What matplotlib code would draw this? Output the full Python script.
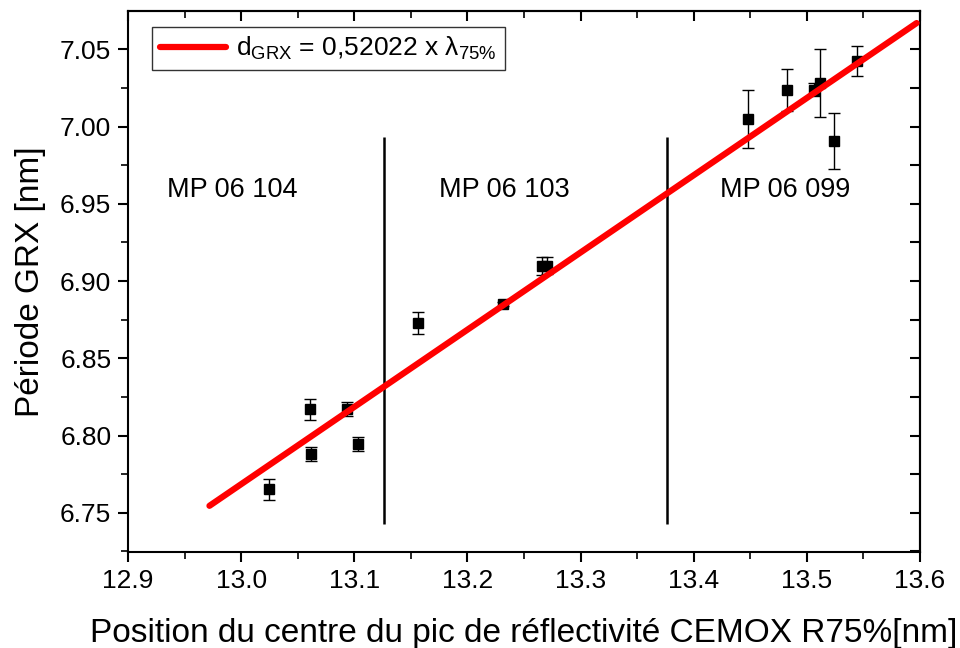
import matplotlib
matplotlib.use("Agg")
import matplotlib.pyplot as plt
from matplotlib.ticker import MultipleLocator, FormatStrFormatter

plt.rcParams['font.family'] = ['Liberation Sans', 'DejaVu Sans']
plt.rcParams['mathtext.fontset'] = 'custom'
plt.rcParams['mathtext.rm'] = 'Liberation Sans'
plt.rcParams['mathtext.it'] = 'Liberation Sans'

# Data
position = [13.0249, 13.0609, 13.0615, 13.0938, 13.1036, 13.1560, 13.2317,
            13.2660, 13.2700, 13.4483, 13.4821, 13.5063, 13.5116, 13.5243, 13.5440]
periode = [6.7651, 6.8169, 6.7880, 6.8169, 6.7943, 6.8730, 6.8851,
           6.9099, 6.9099, 7.0049, 7.0237, 7.0239, 7.0280, 6.9908, 7.0426]
erreur = [0.0069, 0.0070, 0.0047, 0.0045, 0.0046, 0.0070, 0.0015,
          0.0058, 0.0055, 0.0189, 0.0138, 0.0040, 0.0220, 0.0180, 0.0098]

fit_x = [12.972, 13.597]
fit_y = [6.7545, 7.067]

separateurs = [13.1263, 13.3764]
sep_ymin, sep_ymax = 6.743, 6.993

echantillons = ["MP 06 104", "MP 06 103", "MP 06 099"]
ech_x = [12.992, 13.233, 13.4807]
ech_y = 6.959

fig = plt.figure(figsize=(9.6, 6.48), dpi=100)
ax = fig.add_axes([128/960, (648-552)/648, 792/960, 541/648])

ax.errorbar(position, periode, yerr=erreur, fmt='s', color='black', ms=7.3,
            elinewidth=1, capsize=4, capthick=1, zorder=2)
ax.plot(fit_x, fit_y, color='#ff0000', lw=4.5, solid_capstyle='round', zorder=3,
        label=r"d$_{\mathrm{GRX}}$ = 0,52022 x λ$_{\mathregular{75\%}}$")
for sx in separateurs:
    ax.vlines(sx, sep_ymin, sep_ymax, color='black', lw=1.8, zorder=1)
for t, tx in zip(echantillons, ech_x):
    ax.text(tx, ech_y, t, ha='center', va='center', fontsize=19.5)

ax.set_xlim(12.9, 13.6)
ax.set_ylim(6.7246, 7.0748)
ax.xaxis.set_major_locator(MultipleLocator(0.1))
ax.xaxis.set_minor_locator(MultipleLocator(0.05))
ax.yaxis.set_major_locator(MultipleLocator(0.05))
ax.yaxis.set_minor_locator(MultipleLocator(0.025))
ax.xaxis.set_major_formatter(FormatStrFormatter('%.1f'))
ax.yaxis.set_major_formatter(FormatStrFormatter('%.2f'))
ax.tick_params(which='major', direction='out', length=7, width=1.5, labelsize=19, pad=5)
ax.tick_params(which='minor', direction='out', length=5, width=1.2)
for s in ax.spines.values():
    s.set_linewidth(1.5)

secy = ax.secondary_yaxis('right')
secy.yaxis.set_major_locator(MultipleLocator(0.05))
secy.yaxis.set_minor_locator(MultipleLocator(0.025))
secy.tick_params(which='both', direction='in', length=7, width=1.5, labelright=False)
secy.spines['right'].set_linewidth(1.5)
secx = ax.secondary_xaxis('top')
secx.xaxis.set_major_locator(MultipleLocator(0.1))
secx.xaxis.set_minor_locator(MultipleLocator(0.05))
secx.tick_params(which='major', direction='in', length=7, width=1.5, labeltop=False)
secx.tick_params(which='minor', direction='in', length=5, width=1.2)
secx.spines['top'].set_linewidth(1.5)

ax.set_xlabel("Position du centre du pic de réflectivité CEMOX R75%[nm]", fontsize=24, labelpad=18)
ax.set_ylabel("Période GRX [nm]", fontsize=24, labelpad=10)

leg = ax.legend(loc='upper left', bbox_to_anchor=(0.0303, 0.970), borderaxespad=0,
                fontsize=19, frameon=True, fancybox=False, handlelength=2.5,
                handletextpad=0.4, borderpad=0.3)
leg.get_frame().set_edgecolor('black')
leg.get_frame().set_linewidth(1)

fig.savefig("out.png", dpi=100)
